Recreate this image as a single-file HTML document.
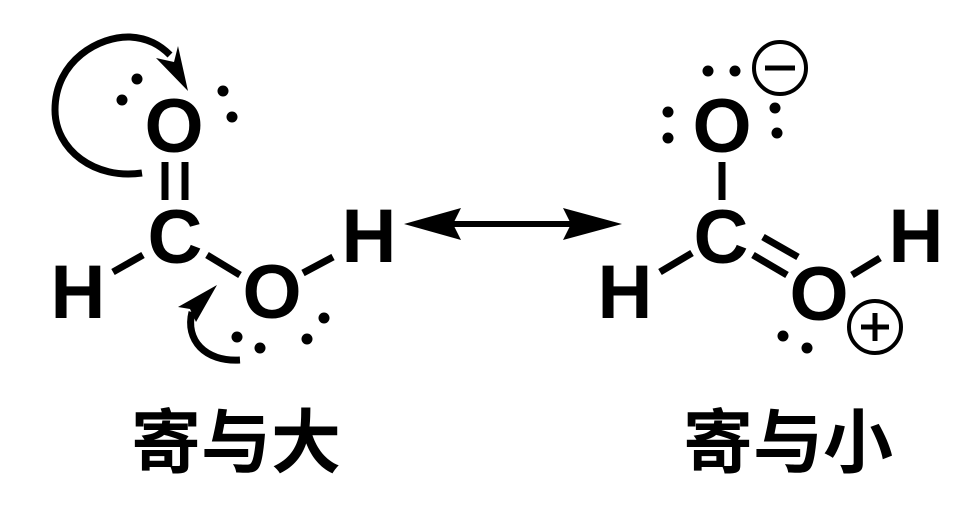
<!DOCTYPE html>
<html><head><meta charset="utf-8"><style>
html,body{margin:0;padding:0;background:#fff;}
svg{display:block;}
.a{font-family:"Liberation Sans",Arial,sans-serif;font-weight:bold;font-size:76px;fill:#000;}
.c{font-family:"Liberation Sans","Noto Sans CJK SC",sans-serif;font-weight:bold;font-size:70px;fill:#000;}
</style></head><body>
<svg width="965" height="523" viewBox="0 0 965 523" xmlns="http://www.w3.org/2000/svg">
<g stroke="#000" stroke-width="7" fill="none">
<!-- left molecule bonds -->
<line x1="165" y1="162" x2="165" y2="200"/>
<line x1="185" y1="162" x2="185" y2="200"/>
<line x1="113" y1="272" x2="143" y2="255"/>
<line x1="207" y1="255" x2="240" y2="275"/>
<line x1="303" y1="273" x2="333" y2="257"/>
<!-- curved arrows -->
<path d="M142,173 C95,180 55,150 55,110 C55,60 100,36 130,37 C148,38 160,45 170,55"/>
<path d="M240,360 C205,362 185,340 192,312"/>
<!-- right molecule bonds -->
<line x1="722" y1="162" x2="722" y2="200"/>
<line x1="660" y1="272" x2="692" y2="253"/>
<line x1="763" y1="237" x2="798" y2="257"/>
<line x1="753" y1="255" x2="787" y2="275"/>
<line x1="852" y1="275" x2="880" y2="258"/>
<!-- double arrow line -->
<line x1="440" y1="224" x2="585" y2="224" stroke-width="6"/>
<!-- charges -->
<circle cx="780" cy="68" r="26" stroke-width="4"/>
<line x1="765" y1="68" x2="795" y2="68" stroke-width="5"/>
<circle cx="875" cy="327" r="26" stroke-width="4"/>
<line x1="861" y1="327" x2="889" y2="327" stroke-width="5"/>
<line x1="875" y1="313" x2="875" y2="341" stroke-width="5"/>
</g>
<g fill="#000">
<polygon points="188,91 156,58 174,62 178,46"/>
<polygon points="217,285 178,307 190,309 196,322"/>
<polygon points="404,224 461,208 453,224 461,240"/>
<polygon points="622,224 563,208 571,224 563,240"/>
<circle cx="137" cy="79" r="5.5"/><circle cx="122" cy="100" r="5.5"/>
<circle cx="223" cy="91" r="5.5"/><circle cx="232" cy="117" r="5.5"/>
<circle cx="237" cy="337" r="5.5"/><circle cx="260" cy="348" r="5.5"/>
<circle cx="307" cy="339" r="5.5"/><circle cx="324" cy="318" r="5.5"/>
<circle cx="708" cy="71" r="5.5"/><circle cx="735" cy="71" r="5.5"/>
<circle cx="668" cy="112" r="5.5"/><circle cx="668" cy="138" r="5.5"/>
<circle cx="775" cy="108" r="5.5"/><circle cx="777" cy="133" r="5.5"/>
<circle cx="783" cy="336" r="5.5"/><circle cx="807" cy="348" r="5.5"/>
</g>
<g class="a" text-anchor="middle">
<text x="174" y="152">O</text>
<text x="175" y="263">C</text>
<text x="78" y="318">H</text>
<text x="272" y="318">O</text>
<text x="369" y="262">H</text>
<text x="722" y="152">O</text>
<text x="721" y="263">C</text>
<text x="625" y="318">H</text>
<text x="819" y="320">O</text>
<text x="916" y="262">H</text>
</g>
<text class="c" x="236" y="467" text-anchor="middle">寄与大</text>
<text class="c" x="788" y="467" text-anchor="middle">寄与小</text>
</svg>
</body></html>
